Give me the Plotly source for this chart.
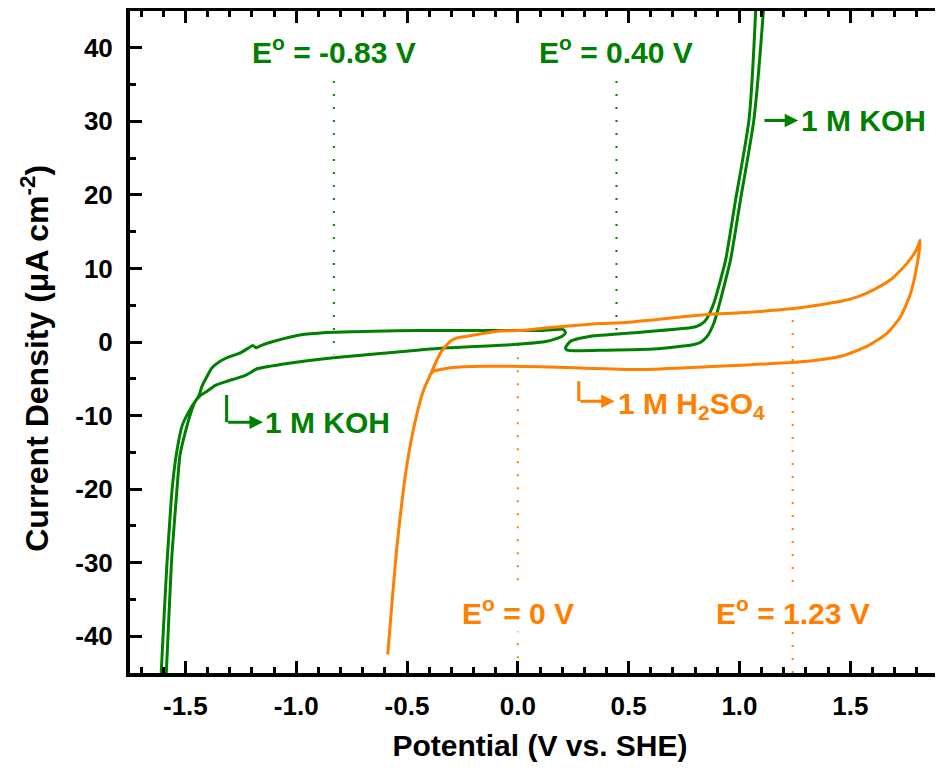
import plotly.graph_objects as go

# ---------------- data ----------------
# 1 M KOH, cathodic (HER) scan
koh_her_x = [0.215, 0.205, 0.10, -0.17, -0.45, -0.65, -0.83, -0.97, -1.10, -1.16, -1.181, -1.196,
             -1.214, -1.252, -1.30, -1.343, -1.380, -1.402, -1.425, -1.440, -1.455, -1.475, -1.493,
             -1.524, -1.538, -1.551, -1.563, -1.586, -1.590,
             -1.613, -1.609, -1.597, -1.583, -1.572, -1.560, -1.541, -1.515, -1.487, -1.455, -1.432,
             -1.402, -1.365, -1.312, -1.260, -1.222, -1.207, -1.177, -1.072, -0.831, -0.454, -0.319,
             -0.018, 0.133, 0.200, 0.215]
koh_her_y = [1.25, 1.70, 1.56, 1.56, 1.56, 1.47, 1.33, 1.02, 0.11, -0.48, -0.79, -0.48,
             -0.79, -1.47, -2.0, -2.61, -3.5, -4.65, -6.0, -7.36, -8.04, -9.58, -11.4,
             -15.3, -20.0, -25.0, -30.0, -44.9, -47.0,
             -47.0, -44.9, -37.7, -30.0, -25.0, -20.0, -15.3, -11.4, -9.6, -8.04, -7.27,
             -6.68, -5.9, -5.33, -4.85, -4.42, -4.18, -3.64, -3.06, -2.15, -1.11, -0.79,
             -0.34, 0.11, 0.79, 1.25]

# 1 M KOH, anodic (OER) scan
koh_oer_x = [0.215, 0.238, 0.28, 0.328, 0.554, 0.779, 0.810, 0.840, 0.855, 0.885, 0.915, 0.938,
             0.983, 1.043, 1.073, 1.075,
             1.112, 1.108, 1.065, 1.005, 0.960, 0.938, 0.915, 0.885, 0.855, 0.825, 0.795, 0.629,
             0.404, 0.223, 0.215]
koh_oer_y = [-0.79, 0.11, 0.50, 0.79, 1.33, 1.93, 2.15, 2.69, 3.29, 5.33, 8.49, 11.2,
             19.4, 30.2, 45.0, 47.0,
             47.0, 45.0, 30.2, 19.4, 11.2, 8.49, 5.77, 2.61, 0.79, -0.03, -0.34, -0.92,
             -1.11, -1.11, -0.79]

# 1 M H2SO4
h2so4_x = [-0.587, -0.545, -0.499, -0.454, -0.424, -0.394, -0.364, -0.349, -0.304,
           -0.274, -0.228, -0.093, 0.0, 0.133, 0.373, 0.464, 0.855, 1.005, 1.231, 1.35, 1.457,
           1.532, 1.607, 1.683, 1.758, 1.803, 1.815,
           1.803, 1.773, 1.728, 1.668, 1.577, 1.457, 1.276, 1.005, 0.855, 0.554, 0.253, 0.101,
           -0.153, -0.304, -0.349, -0.379, -0.400]
h2so4_y = [-42.5, -27.7, -16.4, -9.6, -6.45, -4.42, -2.38, -1.47, 0.11,
           0.57, 0.79, 1.47, 1.55, 1.93, 2.51, 2.61, 3.74, 3.97, 4.51, 5.0, 5.54,
           6.14, 7.13, 8.49, 10.76, 12.8, 13.83,
           10.76, 6.68, 3.51, 1.25, -0.57, -1.93, -2.7, -3.15, -3.37, -3.74, -3.51, -3.37,
           -3.29, -3.51, -3.75, -3.97, -4.6]

# standard potentials (reference lines) and their labels
koh_e0_x = [-0.83, 0.445]
koh_e0_labels = ["E<sup>o</sup> = -0.83 V", "E<sup>o</sup> = 0.40 V"]
acid_e0_x = [0.0, 1.24]
acid_e0_labels = ["E<sup>o</sup> = 0 V", "E<sup>o</sup> = 1.23 V"]

x_ticks = [-1.5, -1.0, -0.5, 0.0, 0.5, 1.0, 1.5]
y_ticks = [-40, -30, -20, -10, 0, 10, 20, 30, 40]

# ---------------- styling ----------------
GREEN = "#008000"
ORANGE = "#FF8000"
FONT = "Arial, Liberation Sans, Helvetica, sans-serif"

fig = go.Figure()

# reference dotted lines
koh_line_y = [(35.5, -1.7), (35.5, 0.3)]
for xv, (y0, y1) in zip(koh_e0_x, koh_line_y):
    fig.add_trace(go.Scatter(x=[xv, xv], y=[y0, y1], mode="lines",
                             line=dict(color=GREEN, width=2, dash="2px,11px"),
                             hoverinfo="skip", showlegend=False))
acid_line_y = [(-0.3, -45), (3.0, -45)]
for xv, (y0, y1) in zip(acid_e0_x, acid_line_y):
    fig.add_trace(go.Scatter(x=[xv, xv], y=[y0, y1], mode="lines",
                             line=dict(color=ORANGE, width=2, dash="2px,11px"),
                             hoverinfo="skip", showlegend=False))

curve_line = dict(width=3, shape="spline", smoothing=0.6)
fig.add_trace(go.Scatter(x=koh_her_x, y=koh_her_y, mode="lines",
                         line=dict(curve_line, color=GREEN), name="1 M KOH", showlegend=False))
fig.add_trace(go.Scatter(x=koh_oer_x, y=koh_oer_y, mode="lines",
                         line=dict(curve_line, color=GREEN), name="1 M KOH", showlegend=False))
fig.add_trace(go.Scatter(x=h2so4_x, y=h2so4_y, mode="lines",
                         line=dict(curve_line, color=ORANGE), name="1 M H2SO4", showlegend=False))

ann_font = dict(family=FONT, size=30, weight="bold")
annotations = []
for xv, lab in zip(koh_e0_x, koh_e0_labels):
    annotations.append(dict(x=xv, y=39.7, xref="x", yref="y", text=lab, showarrow=False,
                            font=dict(ann_font, color=GREEN), xanchor="center", yanchor="middle"))
for xv, lab in zip(acid_e0_x, acid_e0_labels):
    annotations.append(dict(x=xv, y=-36.6, xref="x", yref="y", text=lab, showarrow=False,
                            bgcolor="white",
                            font=dict(ann_font, color=ORANGE), xanchor="center", yanchor="middle"))

# series labels with arrows
annotations += [
    dict(x=1.559, y=30.1, text="1 M KOH", showarrow=False, font=dict(ann_font, color=GREEN),
         xanchor="center", yanchor="middle"),
    dict(x=1.265, y=30.1, ax=1.106, ay=30.1, axref="x", ayref="y", text="", showarrow=True,
         arrowhead=2, arrowsize=0.9, arrowwidth=3, arrowcolor=GREEN),
    dict(x=-0.857, y=-10.9, text="1 M KOH", showarrow=False, font=dict(ann_font, color=GREEN),
         xanchor="center", yanchor="middle"),
    dict(x=-1.150, y=-10.9, ax=-1.314, ay=-10.9, axref="x", ayref="y", text="", showarrow=True,
         arrowhead=2, arrowsize=0.9, arrowwidth=3, arrowcolor=GREEN),
    dict(x=0.442, y=-8.6, text="1 M H<sub>2</sub>SO<sub>4</sub>", showarrow=False,
         font=dict(ann_font, color=ORANGE), xanchor="left", yanchor="middle"),
    dict(x=0.437, y=-8.04, ax=0.275, ay=-8.04, axref="x", ayref="y", text="", showarrow=True,
         arrowhead=2, arrowsize=0.9, arrowwidth=3, arrowcolor=ORANGE),
]
for a in annotations:
    a.setdefault("xref", "x")
    a.setdefault("yref", "y")

# y-axis title (placed as a rotated annotation so it can sit slightly below centre)
annotations.append(dict(x=-0.116, y=0.476, xref="paper", yref="paper",
                        text="Current Density (μA cm<sup>-2</sup>)", textangle=-90,
                        showarrow=False, xanchor="center", yanchor="middle",
                        font=dict(family=FONT, size=32, color="black", weight="bold")))

shapes = [
    dict(type="line", x0=-1.314, x1=-1.314, y0=-7.2, y1=-10.9, xref="x", yref="y",
         line=dict(color=GREEN, width=3)),
    dict(type="line", x0=0.275, x1=0.275, y0=-5.33, y1=-8.04, xref="x", yref="y",
         line=dict(color=ORANGE, width=3)),
]

tick_font = dict(family=FONT, size=26, color="black", weight="bold")
xtitle_font = dict(family=FONT, size=30, color="black", weight="bold")

# the page body adds an 8 px offset; margins compensate for it
fig.update_layout(
    width=943, height=769,
    margin=dict(l=122, r=1, t=3, b=104, autoexpand=False),
    paper_bgcolor="white", plot_bgcolor="white",
    annotations=annotations, shapes=shapes,
    showlegend=False,
)
fig.update_xaxes(
    range=[-1.75, 1.95], tickvals=x_ticks, ticktext=[f"{v:.1f}" for v in x_ticks],
    ticks="inside", ticklen=12, tickwidth=3, tickcolor="black",
    minor=dict(dtick=0.1, tick0=0, ticks="inside", ticklen=6, tickwidth=3, tickcolor="black"),
    showline=True, linewidth=4, linecolor="black", mirror="ticks",
    showgrid=False, zeroline=False, tickfont=tick_font, ticklabelstandoff=7,
    automargin=False,
    title=dict(text="Potential (V vs. SHE)", font=xtitle_font, standoff=16),
)
fig.update_yaxes(
    range=[-45, 45], tickvals=y_ticks, ticktext=[str(v) for v in y_ticks],
    ticks="inside", ticklen=12, tickwidth=3, tickcolor="black",
    minor=dict(dtick=5, tick0=0, ticks="inside", ticklen=6, tickwidth=3, tickcolor="black"),
    showline=True, linewidth=4, linecolor="black", mirror="ticks",
    showgrid=False, zeroline=False, tickfont=tick_font, ticklabelstandoff=8,
    automargin=False,
)

fig.write_html("out.html")
